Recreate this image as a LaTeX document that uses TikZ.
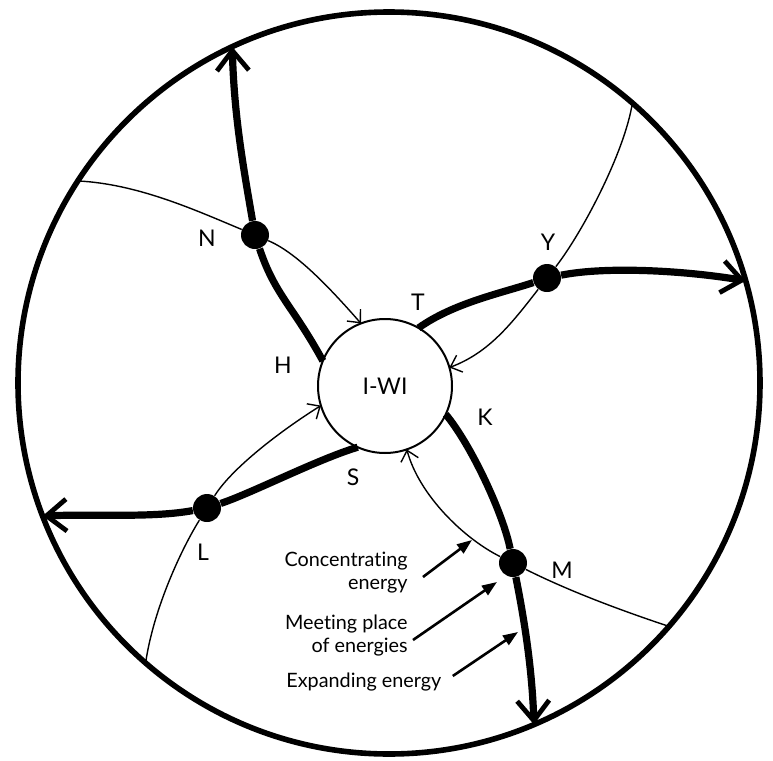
\documentclass[tikz,border=0pt]{standalone}
\usepackage{fontspec}
\setmainfont{Lato}[Ligatures=NoCommon]
\usetikzlibrary{arrows.meta,positioning}

\begin{document}
\begin{tikzpicture}[
    x=0.5pt, y=-0.5pt,
    rim/.style={circle, draw, line width=2.8pt, minimum size=371pt, inner sep=0pt, outer sep=0pt},
    core/.style={circle, draw, line width=1pt, minimum size=67pt, inner sep=0pt, outer sep=0pt, font=\fontsize{11.5}{13}\selectfont},
    meetdot/.style={circle, fill=black, minimum size=14pt, inner sep=0pt},
    lbl/.style={font=\fontsize{11.5}{13}\selectfont, inner sep=0pt},
    note/.style={font=\fontsize{9.9}{11.5}\selectfont, align=right, inner sep=0pt},
    outflow/.style={line width=3.6pt, -{Straight Barb[length=10pt,width=16pt,line width=2.4pt]}},
    inflow/.style={line width=0.7pt, -{Straight Barb[length=5pt,width=9pt,line width=0.7pt]}},
    hint/.style={line width=1.3pt, -{Triangle[length=7.5pt,width=5.5pt]}}
]
    \useasboundingbox (0,0) rectangle (773,761);

    % Circles
    \node (rim) [rim] at (389,383) {};
    \node (core) [core] at (385,386) {I-WI};

    % Meeting places
    \node (ndot) [meetdot] at (255,235) {};
    \node (ydot) [meetdot] at (547,278) {};
    \node (mdot) [meetdot] at (513,563) {};
    \node (ldot) [meetdot] at (207,508) {};

    % Ends on the inner circle
    \coordinate (h) at (core.158);
    \coordinate (t) at (core.60);
    \coordinate (k) at (core.-25);
    \coordinate (s) at (core.-114);
    \coordinate (nend) at (core.111);
    \coordinate (yend) at (core.16);
    \coordinate (mend) at (core.-71);
    \coordinate (lend) at (core.197);

    % Ends on the outer circle
    \coordinate (ntip) at (rim.115);
    \coordinate (ytip) at (rim.16);
    \coordinate (mtip) at (rim.-67.4);
    \coordinate (ltip) at (rim.201.5);
    \coordinate (nin) at (rim.147.6);
    \coordinate (yin) at (rim.49.5);
    \coordinate (min) at (rim.-41.7);
    \coordinate (lin) at (rim.229.4);

    % Expanding energy
    \draw[outflow] (h) .. controls +(-30,-55) and +(20,60) .. (ndot) .. controls +(-12,-70) and +(2,70) .. (ntip);
    \draw[outflow] (t) .. controls +(35,-25) and +(-45,15) .. (ydot) .. controls +(60,-12) and +(-60,-10) .. (ytip);
    \draw[outflow] (k) .. controls +(25,30) and +(-10,-50) .. (mdot) .. controls +(10,50) and +(-2,-60) .. (mtip);
    \draw[outflow] (s) .. controls +(-40,12) and +(45,-15) .. (ldot) .. controls +(-55,10) and +(55,-2) .. (ltip);

    % Concentrating energy
    \draw[inflow] (nin) .. controls +(60,3) and +(-60,-25) .. (ndot) .. controls +(40,17) and +(-35,-40) .. (nend);
    \draw[inflow] (yin) .. controls +(-8,50) and +(35,-45) .. (ydot) .. controls +(-35,45) and +(40,-15) .. (yend);
    \draw[inflow] (min) .. controls +(-60,-20) and +(50,25) .. (mdot) .. controls +(-50,-25) and +(12,45) .. (mend);
    \draw[inflow] (lin) .. controls +(8,-55) and +(-25,40) .. (ldot) .. controls +(25,-40) and +(-40,25) .. (lend);

    % Letters
    \node (nlab) [lbl] at (207,238) {N};
    \node (hlab) [lbl] at (283,365) {H};
    \node (tlab) [lbl] at (418,302) {T};
    \node (ylab) [lbl] at (548,242) {Y};
    \node (klab) [lbl] at (485,417) {K};
    \node (slab) [lbl] at (353,477) {S};
    \node (llab) [lbl] at (203,552) {L};
    \node (mlab) [lbl] at (562,570) {M};

    % Key
    \node (conc) [note, anchor=east] at (408,573) {Concentrating\\energy};
    \node (meet) [note, anchor=east] at (408,636) {Meeting place\\of energies};
    \node (expa) [note, anchor=west] at (286,682) {Expanding energy};
    \coordinate (conctip) at (472,540);
    \coordinate (meettip) at (497,582);
    \coordinate (expatip) at (518,632);
    \draw[hint] ([shift={(15,4)}]conc.east) -- (conctip);
    \draw[hint] ([shift={(5,4)}]meet.east) -- (meettip);
    \draw[hint] ([shift={(11,-6)}]expa.east) -- (expatip);
\end{tikzpicture}
\end{document}
